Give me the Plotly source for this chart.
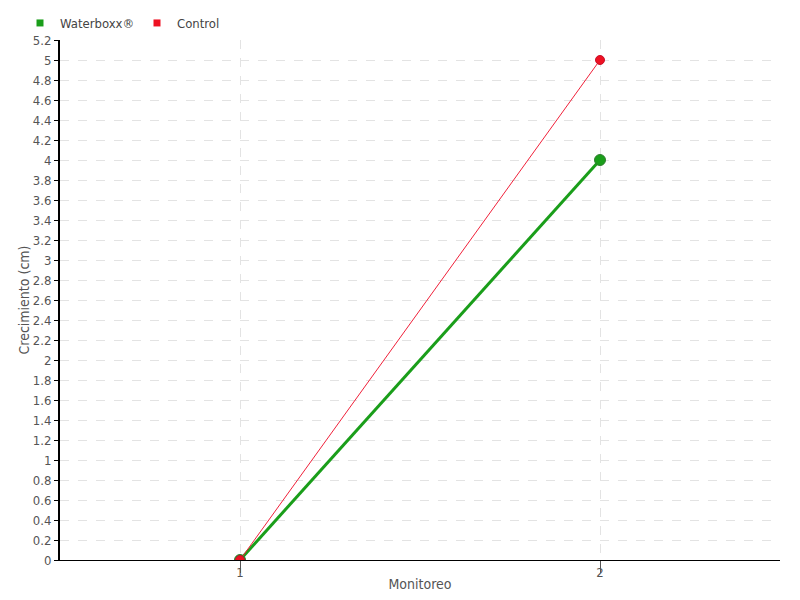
import plotly.graph_objects as go

monitoreo = [1, 2]
waterboxx = [0, 4]
control = [0, 5]
y_ticks = [round(i * 0.2, 1) for i in range(27)]
y_labels = [("%g" % v) for v in y_ticks]

font_family = "DejaVu Sans Condensed, Liberation Sans Narrow, Roboto, sans-serif"
GREEN = "#1a9e1a"
RED = "#ee1122"

fig = go.Figure()
fig.add_trace(go.Scatter(
    x=monitoreo, y=waterboxx, name="Waterboxx®", mode="lines+markers",
    line=dict(color=GREEN, width=3), showlegend=False, legendgroup="w",
    marker=dict(color=GREEN, size=11, line=dict(color="#2f7f2f", width=1)),
))
fig.add_trace(go.Scatter(
    x=monitoreo, y=control, name="Control", mode="lines+markers",
    line=dict(color="#f0213a", width=1), showlegend=False, legendgroup="c",
    marker=dict(color=RED, size=9, line=dict(color="#c8102a", width=1)),
))
# legend entries (square swatches)
fig.add_trace(go.Scatter(x=[None], y=[None], name="Waterboxx®", mode="markers",
                         legendgroup="w", marker=dict(symbol="square", size=7, color=GREEN)))
fig.add_trace(go.Scatter(x=[None], y=[None], name="Control", mode="markers",
                         legendgroup="c", marker=dict(symbol="square", size=7, color=RED)))

fig.update_layout(
    width=800, height=600,
    paper_bgcolor="white", plot_bgcolor="white",
    margin=dict(l=52, r=28, t=32, b=48, autoexpand=False),
    font=dict(family=font_family, size=14, color="#555555"),
    showlegend=True,
    legend=dict(orientation="h", x=0.015, y=1.0, xref="container", yref="container",
                xanchor="left", yanchor="top", font=dict(size=13, color="#444444"),
                itemwidth=30, traceorder="normal", bgcolor="rgba(0,0,0,0)",
                itemclick=False, tracegroupgap=0, entrywidth=72, entrywidthmode="pixels"),
)
fig.update_xaxes(
    range=[0.5, 2.5], tickmode="array", tickvals=monitoreo, ticktext=["1", "2"],
    showgrid=True, gridcolor="#e3e3e3", griddash="dash", gridwidth=1,
    showline=True, linecolor="black", linewidth=1,
    ticks="outside", ticklen=12, tickcolor="#555555",
    ticklabelstandoff=-12,
    zeroline=False, automargin=False,
    title=dict(text="Monitoreo", standoff=0, font=dict(size=14, color="#555555")),
    tickfont=dict(size=13, color="#555555"),
)
fig.update_yaxes(
    range=[0, 5.2], tickmode="array", tickvals=y_ticks, ticktext=y_labels,
    showgrid=True, gridcolor="#e3e3e3", griddash="dash", gridwidth=1,
    showline=True, linecolor="black", linewidth=2,
    ticks="outside", ticklen=4, tickcolor="black",
    zeroline=False, automargin=False,
    title=dict(text="Crecimiento (cm)", standoff=0, font=dict(size=14, color="#555555")),
    tickfont=dict(size=13, color="#555555"),
)

fig.write_html("out.html")
